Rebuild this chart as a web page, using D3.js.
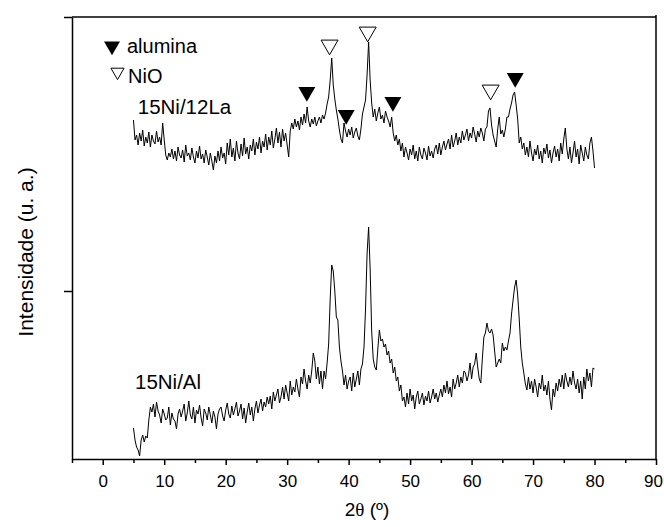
<!DOCTYPE html>
<html>
<head>
<meta charset="utf-8">
<script src="https://cdn.jsdelivr.net/npm/d3@7"></script>
<style>
  html, body { margin: 0; padding: 0; background: #fff; }
  svg { display: block; }
  text { font-family: "Liberation Sans", Arial, sans-serif; fill: #000; }
</style>
</head>
<body>
<svg id="chart" width="664" height="527"></svg>
<script>
// 2θ grid: 5° to 80°, step 0.25°
const thetaStart = 5, thetaStep = 0.25;

// 15Ni/Al (lower pattern), intensity in arbitrary units
const ni15Al = [
  31,19,12,9, 3,19,24,17, 23,21,39,52, 47,55,42,57, 48,44,36,50,
  45,39,41,52, 34,46,40,38, 30,45,50,42, 48,55,38,46, 58,44,40,52,
  36,49,45,54, 41,33,50,46, 39,52,44,36, 48,42,30,45, 50,52,43,38,
  49,56,45,41, 53,44,50,57, 43,48,55,40, 51,36,47,56, 44,52,38,50,
  58,46,54,60, 48,57,52,62, 55,63,50,67, 58,64,70,56, 62,72,60,74,
  66,58,78,64, 72,67,80,70, 62,82,75,90, 78,70,84,76, 88,106,98,80,
  92,75,88,70, 88,80,96,115, 160,194,188,168, 142,139,112,98, 88,74,84,70,
  78,82,68,86, 72,80,88,74, 90,95,112,150, 205,232,190,128, 100,92,89,110,
  129,118,120,112, 115,104,108,96, 100,86,92,78, 82,68,74,58, 62,52,66,55,
  70,58,64,50, 62,68,55,60, 66,54,63,58, 68,56,62,70, 60,66,57,64,
  70,62,74,66, 78,65,72,62, 80,70,76,84, 72,82,76,88, 86,78,84,96,
  80,92,95,106, 92,80,76,100, 122,126,136,128, 126,130,124,108, 92,96,100,96,
  116,108,112,109, 118,126,145,159, 172,179,164,140, 112,96,86,75, 69,82,70,78,
  66,80,72,62, 76,70,84,68, 74,64,78,60, 49,70,62,76, 68,80,72,84,
  70,86,78,72, 82,74,88,76, 70,80,66,78, 60,82,70,90, 78,86,72,91,
  90
];

// 15Ni/12La (upper pattern, offset), intensity in arbitrary units
const ni15La12 = [
  339,319,324,314, 326,318,329,313, 322,316,327,312, 324,318,315,328, 317,322,314,336,
  319,304,299,306, 302,310,300,308, 298,312,304,301, 309,297,314,303, 306,299,311,302,
  296,308,301,313, 300,305,296,309, 302,294,306,298, 289,303,296,308, 298,312,301,306,
  295,316,304,320, 302,311,298,318, 306,300,315,303, 321,305,312,300, 314,308,320,304,
  317,310,322,306, 318,312,325,309, 322,314,328,311, 320,331,316,327, 312,330,318,326,
  314,302,328,336, 330,340,332,338, 329,342,334,345, 336,352,338,332, 340,335,342,333,
  338,342,336,344, 340,346,355,362, 379,401,374,360, 349,340,329,320, 316,336,328,322,
  330,324,332,321, 327,331,323,319, 330,345,352,359, 384,417,379,356, 342,350,338,346,
  352,340,344,336, 348,342,338,332, 342,326,318,324, 314,320,308,316, 302,312,306,299,
  310,304,314,300, 308,298,312,304, 300,311,306,299, 313,303,308,301, 310,314,305,316,
  304,312,318,309, 315,320,310,324, 312,318,326,314, 322,316,328,319, 324,330,318,326,
  321,332,325,317, 328,322,331,326, 318,330,332,348, 351,334,324,318, 312,330,342,325,
  329,322,330,342, 342,350,356,364, 367,354,340,316, 322,310,316,304, 312,302,318,306,
  298,310,304,314, 300,308,296,311, 305,315,301,309, 296,306,313,302, 310,298,316,305,
  320,331,310,300, 312,296,306,318, 302,310,295,314, 306,298,312,304, 300,316,322,308,
  291
];

// Phase markers (2θ, marker height in chart units)
const aluminaTheta = [33.2, 39.6, 47.2, 67.1];
const aluminaLevel = [367, 344, 357, 381];
const nioTheta = [36.9, 43.1, 63.1];
const nioLevel = [414, 427, 369];

// Axis ticks
const xMajorTicks = [0, 10, 20, 30, 40, 50, 60, 70, 80, 90];
const xMinorTicks = [-5, 5, 15, 25, 35, 45, 55, 65, 75, 85];
const yTicks = [168, 442];

// Series labels
const seriesLabels = ["15Ni/12La", "15Ni/Al"];
const seriesLabelTheta = [5.7, 5.25];
const seriesLabelLevel = [345, 70];

const legendNames = ["alumina", "NiO"];

const svg = d3.select("#chart");
const mLeft = 72, mRight = 656, mTop = 17, mBottom = 459;

const x = d3.scaleLinear().domain([-5, 90]).range([mLeft, mRight]);
const y = d3.scaleLinear().domain([0, 442]).range([mBottom, mTop]);

const thetas = ni15Al.map((_, i) => thetaStart + i * thetaStep);

// frame: top and right
svg.append("line").attr("x1", mLeft).attr("x2", mRight).attr("y1", mTop).attr("y2", mTop)
  .attr("stroke", "#000").attr("stroke-width", 1.5);
svg.append("line").attr("x1", mRight).attr("x2", mRight).attr("y1", mTop - 2).attr("y2", mBottom)
  .attr("stroke", "#000").attr("stroke-width", 1.5);

// x axis
const gx = svg.append("g").attr("transform", `translate(0,${mBottom})`)
  .call(d3.axisBottom(x).tickValues(xMajorTicks).tickSize(6).tickSizeOuter(0).tickPadding(10));
gx.selectAll("text").attr("font-size", 17).attr("font-family", '"Liberation Sans", Arial, sans-serif');
gx.selectAll(".tick text").filter(d => d === 90).attr("dx", -3);
const gxm = svg.append("g").attr("transform", `translate(0,${mBottom})`)
  .call(d3.axisBottom(x).tickValues(xMinorTicks).tickSize(4).tickSizeOuter(0).tickFormat(""));
gxm.select(".domain").remove();

// y axis
const gy = svg.append("g").attr("transform", `translate(${mLeft},0)`)
  .call(d3.axisLeft(y).tickValues(yTicks).tickSize(8).tickSizeOuter(0).tickFormat(""));

svg.selectAll(".domain, .tick line").attr("stroke", "#000").attr("stroke-width", 1.5);

// lines
const line = d3.line().x((d, i) => x(thetas[i])).y(d => y(d));
[ni15Al, ni15La12].forEach(s => {
  svg.append("path").datum(s).attr("d", line)
    .attr("fill", "none").attr("stroke", "#000").attr("stroke-width", 1)
    .attr("stroke-linejoin", "round");
});

// markers
const tri = d3.symbol().type(d3.symbolTriangle).size(125);
aluminaTheta.forEach((t, i) => {
  svg.append("path").attr("d", tri())
    .attr("transform", `translate(${x(t)},${y(aluminaLevel[i])}) rotate(180)`)
    .attr("fill", "#000");
});
nioTheta.forEach((t, i) => {
  svg.append("path").attr("d", tri())
    .attr("transform", `translate(${x(t)},${y(nioLevel[i])}) rotate(180)`)
    .attr("fill", "#fff").attr("stroke", "#000").attr("stroke-width", 1);
});

// legend
const triL = d3.symbol().type(d3.symbolTriangle).size(110);
const triS = d3.symbol().type(d3.symbolTriangle).size(75);
svg.append("path").attr("d", triL()).attr("transform", "translate(112,46) rotate(180)").attr("fill", "#000");
svg.append("text").attr("x", 127).attr("y", 53).attr("font-size", 20).text(legendNames[0]);
svg.append("path").attr("d", triS()).attr("transform", "translate(117.5,72) rotate(180)")
  .attr("fill", "#fff").attr("stroke", "#000").attr("stroke-width", 1);
svg.append("text").attr("x", 128).attr("y", 83).attr("font-size", 20).text(legendNames[1]);

// series labels
seriesLabels.forEach((s, i) => {
  svg.append("text").attr("x", x(seriesLabelTheta[i])).attr("y", y(seriesLabelLevel[i]))
    .attr("font-size", 20.5).text(s);
});

// axis titles
const xt = svg.append("text").attr("x", 367).attr("y", 516).attr("text-anchor", "middle").attr("font-size", 19);
xt.append("tspan").text("2");
xt.append("tspan").attr("font-family", '"Liberation Serif", "Times New Roman", serif').text("θ");
xt.append("tspan").text(" (º)");

svg.append("text").attr("transform", "translate(33,252) rotate(-90)")
  .attr("text-anchor", "middle").attr("font-size", 21).text("Intensidade (u. a.)");
</script>
</body>
</html>
